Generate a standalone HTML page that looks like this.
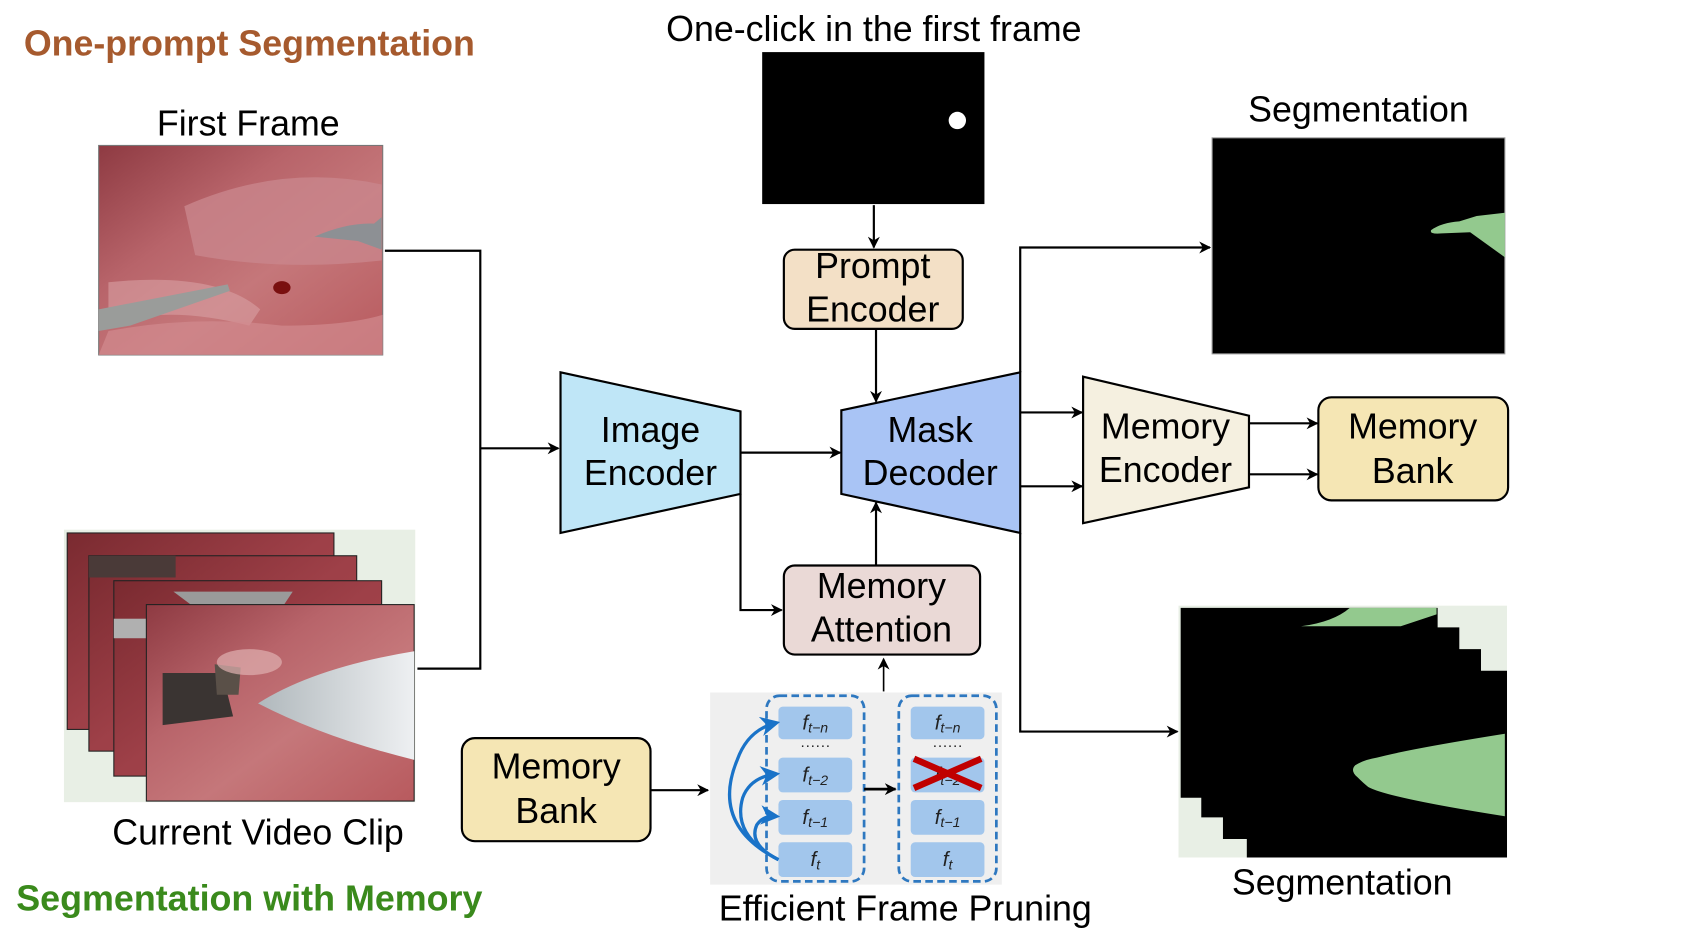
<!DOCTYPE html>
<html><head><meta charset="utf-8"><style>
html,body{margin:0;padding:0;background:#fff;}
svg{display:block;}
text{font-family:"Liberation Sans",Arial,sans-serif;}
</style></head><body>
<svg width="1700" height="940" viewBox="0 0 1568 866" preserveAspectRatio="none" xmlns="http://www.w3.org/2000/svg">
<defs>
<marker id="a" viewBox="0 0 10 10" refX="9" refY="5" markerWidth="11" markerHeight="11" markerUnits="userSpaceOnUse" orient="auto">
<path d="M0,0 L10,5 L0,10 L3,5 z" fill="#000"/></marker>
<marker id="b" viewBox="0 0 10 10" refX="8" refY="5" markerWidth="6" markerHeight="6" orient="auto">
<path d="M0,0 L10,5 L0,10 L3,5 z" fill="#1a73c8"/></marker>
<linearGradient id="tis" x1="0" y1="0" x2="1" y2="1">
<stop offset="0" stop-color="#8e3a42"/><stop offset="0.35" stop-color="#b8646a"/><stop offset="0.6" stop-color="#c5777a"/><stop offset="1" stop-color="#b85a5e"/></linearGradient>
<linearGradient id="tis2" x1="0" y1="0" x2="1" y2="1">
<stop offset="0" stop-color="#7a2a30"/><stop offset="0.5" stop-color="#9e4048"/><stop offset="1" stop-color="#a8484e"/></linearGradient>
<linearGradient id="probe" x1="0" y1="0" x2="1" y2="0">
<stop offset="0" stop-color="#b0b8bc"/><stop offset="1" stop-color="#eef0f2"/></linearGradient>
</defs>
<g font-size="33">
<text x="22" y="51" font-weight="bold" fill="#a65a2e" textLength="416" lengthAdjust="spacingAndGlyphs">One-prompt Segmentation</text>
<text x="15" y="839" font-weight="bold" fill="#3a8a1c" textLength="430" lengthAdjust="spacingAndGlyphs">Segmentation with Memory</text>

<text x="229" y="125" text-anchor="middle">First Frame</text>
<rect x="91" y="134" width="262" height="193" fill="url(#tis)" stroke="#777" stroke-width="1"/>
<path d="M170,190 Q260,150 352,170 L352,240 Q260,250 180,235 Z" fill="#c9868c" opacity="0.8"/>
<path d="M100,260 Q200,250 240,285 L230,300 Q150,280 100,300 Z" fill="#d9a0a4" opacity="0.6"/>
<path d="M91,285 L210,262 L212,268 L120,300 L91,305 Z" fill="#9a9c9a"/>
<path d="M290,218 Q320,205 345,206 L352,200 L352,230 L330,222 Z" fill="#8d9094"/>
<ellipse cx="260" cy="265" rx="8" ry="6" fill="#7a1010"/>
<path d="M100,305 Q180,290 260,300 Q320,300 353,290 L353,327 L91,327 Z" fill="#d28a8e" opacity="0.7"/>

<rect x="59" y="488" width="324" height="251" fill="#e8efe5"/>
<rect x="62" y="491" width="246" height="181" fill="url(#tis2)" stroke="#222" stroke-width="1"/>
<rect x="82" y="512" width="247" height="180" fill="url(#tis2)" stroke="#222" stroke-width="1"/>
<rect x="82" y="512" width="80" height="20" fill="#4a3a38"/>
<rect x="105" y="535" width="247" height="180" fill="url(#tis2)" stroke="#222" stroke-width="1"/>
<path d="M160,545 L270,545 L260,560 L180,560 Z" fill="#9a9a9a"/>
<rect x="105" y="570" width="32" height="18" fill="#b0b0b0"/>
<rect x="135" y="557" width="247" height="181" fill="url(#tis)" stroke="#222" stroke-width="1"/>
<path d="M150,620 L205,620 L215,660 L150,668 Z" fill="#3a3432"/>
<path d="M198,612 L222,615 L220,640 L200,640 Z" fill="#5a5048"/>
<path d="M238,648 Q290,615 382,600 L382,700 Q300,680 238,648 Z" fill="url(#probe)"/>
<ellipse cx="230" cy="610" rx="30" ry="12" fill="#e0b0b0" opacity="0.7"/>
<text x="238" y="778" text-anchor="middle">Current Video Clip</text>

<polyline points="355,231 443,231 443,616 385,616" fill="none" stroke="#000" stroke-width="2"/>
<line x1="443" y1="413" x2="515" y2="413" stroke="#000" stroke-width="2" marker-end="url(#a)"/>

<text x="806" y="38" text-anchor="middle">One-click in the first frame</text>
<rect x="703" y="48" width="205" height="140" fill="#000"/>
<circle cx="883" cy="111" r="8" fill="#fff"/>
<line x1="806" y1="189" x2="806" y2="228" stroke="#000" stroke-width="2" marker-end="url(#a)"/>

<rect x="723" y="230" width="165" height="73" rx="10" fill="#f3e0c6" stroke="#000" stroke-width="2"/>
<text x="805" y="256" text-anchor="middle">Prompt</text>
<text x="805" y="296" text-anchor="middle">Encoder</text>
<line x1="808" y1="303" x2="808" y2="370" stroke="#000" stroke-width="2" marker-end="url(#a)"/>

<polygon points="517,343 683,379 683,455 517,491" fill="#bfe6f7" stroke="#000" stroke-width="2"/>
<text x="600" y="407" text-anchor="middle">Image</text>
<text x="600" y="447" text-anchor="middle">Encoder</text>
<line x1="683" y1="417" x2="775" y2="417" stroke="#000" stroke-width="2" marker-end="url(#a)"/>
<polyline points="683,455 683,562 721,562" fill="none" stroke="#000" stroke-width="2" marker-end="url(#a)"/>

<polygon points="776,378 941,343 941,491 776,455" fill="#a9c4f5" stroke="#000" stroke-width="2"/>
<text x="858" y="407" text-anchor="middle">Mask</text>
<text x="858" y="447" text-anchor="middle">Decoder</text>

<rect x="723" y="521" width="181" height="82" rx="10" fill="#ead9d6" stroke="#000" stroke-width="2"/>
<text x="813" y="551" text-anchor="middle">Memory</text>
<text x="813" y="591" text-anchor="middle">Attention</text>
<line x1="808" y1="521" x2="808" y2="463" stroke="#000" stroke-width="2" marker-end="url(#a)"/>
<line x1="815" y1="637" x2="815" y2="607" stroke="#000" stroke-width="1.5" marker-end="url(#a)"/>

<rect x="426" y="680" width="174" height="95" rx="12" fill="#f5e6b4" stroke="#000" stroke-width="2"/>
<text x="513" y="717" text-anchor="middle">Memory</text>
<text x="513" y="758" text-anchor="middle">Bank</text>
<line x1="600" y1="728" x2="653" y2="728" stroke="#000" stroke-width="2" marker-end="url(#a)"/>

<rect x="655" y="638" width="269" height="177" fill="#efefef"/>
<rect x="707" y="641" width="90" height="171" rx="12" fill="none" stroke="#2e78c0" stroke-width="2.5" stroke-dasharray="7,4"/>
<rect x="829" y="641" width="90" height="171" rx="12" fill="none" stroke="#2e78c0" stroke-width="2.5" stroke-dasharray="7,4"/>
<g fill="#a2c6ec">
<rect x="718" y="651" width="68" height="30" rx="4"/><rect x="718" y="698" width="68" height="32" rx="4"/>
<rect x="718" y="737" width="68" height="32" rx="4"/><rect x="718" y="776" width="68" height="32" rx="4"/>
<rect x="840" y="651" width="68" height="30" rx="4"/><rect x="840" y="698" width="68" height="32" rx="4"/>
<rect x="840" y="737" width="68" height="32" rx="4"/><rect x="840" y="776" width="68" height="32" rx="4"/>
</g>
<g font-family="Liberation Serif,serif" font-style="italic" font-size="19" text-anchor="middle" fill="#222">
<text x="752" y="672">f<tspan font-size="13" dy="3">t−n</tspan></text>
<text x="752" y="720">f<tspan font-size="13" dy="3">t−2</tspan></text>
<text x="752" y="759">f<tspan font-size="13" dy="3">t−1</tspan></text>
<text x="752" y="798">f<tspan font-size="13" dy="3">t</tspan></text>
<text x="874" y="672">f<tspan font-size="13" dy="3">t−n</tspan></text>
<text x="874" y="720">f<tspan font-size="13" dy="3">t−2</tspan></text>
<text x="874" y="759">f<tspan font-size="13" dy="3">t−1</tspan></text>
<text x="874" y="798">f<tspan font-size="13" dy="3">t</tspan></text>
</g>
<text x="752" y="691" font-size="14" text-anchor="middle" fill="#222">······</text>
<text x="874" y="691" font-size="14" text-anchor="middle" fill="#222">······</text>
<g stroke="#c00000" stroke-width="6"><line x1="843" y1="699" x2="905" y2="726"/><line x1="843" y1="726" x2="905" y2="699"/></g>
<line x1="797" y1="727" x2="826" y2="727" stroke="#000" stroke-width="2.5" marker-end="url(#a)"/>
<g fill="none" stroke="#1a73c8" stroke-width="3">
<path d="M718,792 Q655,760 680,700 Q690,672 716,666" marker-end="url(#b)"/>
<path d="M718,792 Q675,770 685,735 Q692,716 716,713" marker-end="url(#b)"/>
<path d="M718,792 Q690,778 698,760 Q704,751 716,752" marker-end="url(#b)"/>
</g>
<text x="835" y="848" text-anchor="middle">Efficient Frame Pruning</text>

<polyline points="941,343 941,228 1116,228" fill="none" stroke="#000" stroke-width="2" marker-end="url(#a)"/>
<polyline points="941,491 941,674 1086,674" fill="none" stroke="#000" stroke-width="2" marker-end="url(#a)"/>
<line x1="941" y1="380" x2="998" y2="380" stroke="#000" stroke-width="2" marker-end="url(#a)"/>
<line x1="941" y1="448" x2="998" y2="448" stroke="#000" stroke-width="2" marker-end="url(#a)"/>

<polygon points="999,347 1152,383 1152,449 999,482" fill="#f5f0e0" stroke="#000" stroke-width="2"/>
<text x="1075" y="404" text-anchor="middle">Memory</text>
<text x="1075" y="444" text-anchor="middle">Encoder</text>
<line x1="1152" y1="390" x2="1215" y2="390" stroke="#000" stroke-width="2" marker-end="url(#a)"/>
<line x1="1152" y1="437" x2="1215" y2="437" stroke="#000" stroke-width="2" marker-end="url(#a)"/>

<rect x="1216" y="366" width="175" height="95" rx="12" fill="#f5e6b4" stroke="#000" stroke-width="2"/>
<text x="1303" y="404" text-anchor="middle">Memory</text>
<text x="1303" y="445" text-anchor="middle">Bank</text>

<text x="1253" y="112" text-anchor="middle">Segmentation</text>
<rect x="1118" y="127" width="270" height="199" fill="#000" stroke="#999" stroke-width="1"/>
<path d="M1320,212 Q1330,205 1346,204 L1362,199 L1388,196 L1388,237 L1356,214 L1330,215 Q1318,216 1320,212 Z" fill="#93c98e"/>

<rect x="1087" y="558" width="303" height="232" fill="#e8efe5"/>
<path d="M1089,560 L1326,560 L1326,578 L1346,578 L1346,598 L1366,598 L1366,618 L1390,618 L1390,790 L1150,790 L1150,773 L1128,773 L1128,753 L1108,753 L1108,735 L1089,735 Z" fill="#000"/>
<path d="M1200,577 Q1230,573 1245,560 L1325,560 L1325,566 L1292,577 Z" fill="#93c98e"/>
<path d="M1250,705 Q1245,710 1252,716 Q1258,722 1262,725 Q1280,735 1388,752 L1388,676 Q1300,690 1270,698 Q1258,700 1250,705 Z" fill="#93c98e"/>
<text x="1238" y="824" text-anchor="middle">Segmentation</text>
</g>
</svg>
</body></html>
